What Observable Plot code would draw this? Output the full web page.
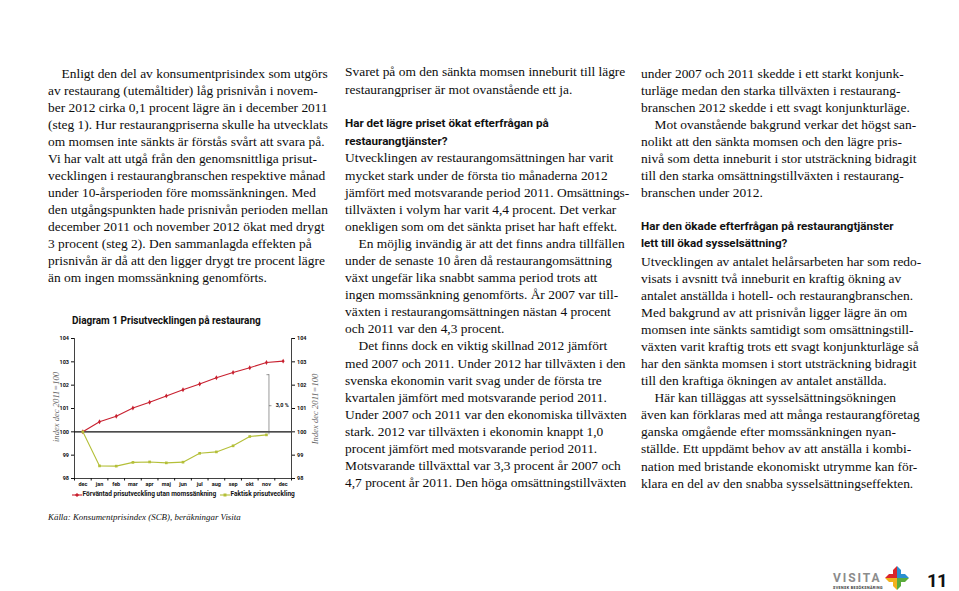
<!DOCTYPE html>
<html><head><meta charset="utf-8">
<script src="https://cdn.jsdelivr.net/npm/d3@7"></script>
<script src="https://cdn.jsdelivr.net/npm/@observablehq/plot@0.6"></script>
<style>
html,body{margin:0;padding:0;background:#fff;}
#page{position:relative;width:959px;height:591px;overflow:hidden;background:#fff;color:#0d0d0d;}
.blk{position:absolute;white-space:nowrap;font-family:"Liberation Serif","Times New Roman",serif;}
.blk div{white-space:nowrap;}
.ind{padding-left:13.5px;}
.hd{font-family:Roboto,"Noto Sans",sans-serif;font-weight:700;color:#111;}
.abs{position:absolute;white-space:nowrap;}
#chart{position:absolute;left:40px;top:325px;}
</style></head>
<body><div id="page"></div>
<script>
// ---- chart data ----
const months = ["dec","jan","feb","mar","apr","maj","jun","jul","aug","sep","okt","nov","dec"];
const expected = [100, 100.43, 100.67, 101.02, 101.27, 101.54, 101.8, 102.05, 102.32, 102.54, 102.75, 102.97, 103.03];
const actual = [100, 98.54, 98.53, 98.69, 98.71, 98.67, 98.70, 99.08, 99.14, 99.40, 99.80, 99.87];
const yTicks = [98, 99, 100, 101, 102, 103, 104];
const seriesNames = ["Förväntad prisutveckling utan momssänkning", "Faktisk prisutveckling"];
const seriesColors = ["#c8202f", "#b4bf38"];
const bracketX = 11.15, bracketTop = 102.45, bracketLabelY = 101.12, bracketLabel = "3,0 %";
const chartTitle = "Diagram 1 Prisutvecklingen på restaurang";
const yLabelLeft = "index dec 2011=100", yLabelRight = "Index dec 2011=100";
const source = "Källa: Konsumentprisindex (SCB), beräkningar Visita";

// ---- page text ----
const col1 = [
 ">Enligt den del av konsumentprisindex som utgörs",
 "av restaurang (utemåltider) låg prisnivån i novem-",
 "ber 2012 cirka 0,1 procent lägre än i december 2011",
 "(steg 1). Hur restaurangpriserna skulle ha utvecklats",
 "om momsen inte sänkts är förstås svårt att svara på.",
 "Vi har valt att utgå från den genomsnittliga prisut-",
 "vecklingen i restaurangbranschen respektive månad",
 "under 10-årsperioden före momssänkningen. Med",
 "den utgångspunkten hade prisnivån perioden mellan",
 "december 2011 och november 2012 ökat med drygt",
 "3 procent (steg 2). Den sammanlagda effekten på",
 "prisnivån är då att den ligger drygt tre procent lägre",
 "än om ingen momssänkning genomförts."];
const col2a = ["Svaret på om den sänkta momsen inneburit till lägre","restaurangpriser är mot ovanstående ett ja."];
const col2h = ["Har det lägre priset ökat efterfrågan på","restaurangtjänster?"];
const col2b = [
 "Utvecklingen av restaurangomsättningen har varit",
 "mycket stark under de första tio månaderna 2012",
 "jämfört med motsvarande period 2011. Omsättnings-",
 "tillväxten i volym har varit 4,4 procent. Det verkar",
 "onekligen som om det sänkta priset har haft effekt.",
 ">En möjlig invändig är att det finns andra tillfällen",
 "under de senaste 10 åren då restaurangomsättning",
 "växt ungefär lika snabbt samma period trots att",
 "ingen momssänkning genomförts. År 2007 var till-",
 "växten i restaurangomsättningen nästan 4 procent",
 "och 2011 var den 4,3 procent.",
 ">Det finns dock en viktig skillnad 2012 jämfört",
 "med 2007 och 2011. Under 2012 har tillväxten i den",
 "svenska ekonomin varit svag under de första tre",
 "kvartalen jämfört med motsvarande period 2011.",
 "Under 2007 och 2011 var den ekonomiska tillväxten",
 "stark. 2012 var tillväxten i ekonomin knappt 1,0",
 "procent jämfört med motsvarande period 2011.",
 "Motsvarande tillväxttal var 3,3 procent år 2007 och",
 "4,7 procent år 2011. Den höga omsättningstillväxten"];
const col3a = [
 "under 2007 och 2011 skedde i ett starkt konjunk-",
 "turläge medan den starka tillväxten i restaurang-",
 "branschen 2012 skedde i ett svagt konjunkturläge.",
 ">Mot ovanstående bakgrund verkar det högst san-",
 "nolikt att den sänkta momsen och den lägre pris-",
 "nivå som detta inneburit i stor utsträckning bidragit",
 "till den starka omsättningstillväxten i restaurang-",
 "branschen under 2012."];
const col3h = ["Har den ökade efterfrågan på restaurangtjänster","lett till ökad sysselsättning?"];
const col3b = [
 "Utvecklingen av antalet helårsarbeten har som redo-",
 "visats i avsnitt två inneburit en kraftig ökning av",
 "antalet anställda i hotell- och restaurangbranschen.",
 "Med bakgrund av att prisnivån ligger lägre än om",
 "momsen inte sänkts samtidigt som omsättningstill-",
 "växten varit kraftig trots ett svagt konjunkturläge så",
 "har den sänkta momsen i stort utsträckning bidragit",
 "till den kraftiga ökningen av antalet anställda.",
 ">Här kan tilläggas att sysselsättningsökningen",
 "även kan förklaras med att många restaurangföretag",
 "ganska omgående efter momssänkningen nyan-",
 "ställde. Ett uppdämt behov av att anställa i kombi-",
 "nation med bristande ekonomiskt utrymme kan för-",
 "klara en del av den snabba sysselsättningseffekten."];

const page = document.getElementById("page");
const cv = document.createElement("canvas").getContext("2d");
function fit(text, font, target){ cv.font = font.replace("SIZE","100px"); return 100*target/cv.measureText(text).width; }

const bodySize = fit(col1[1], 'SIZE "Liberation Serif"', 270);
const hdSize = fit(col2h[0], '700 SIZE Roboto', 204);

function block(left, firstCenter, lh, lines, isHead){
  const d = document.createElement("div");
  d.className = "blk" + (isHead ? " hd" : "");
  d.style.left = left + "px";
  d.style.top = (firstCenter - lh/2) + "px";
  d.style.lineHeight = lh + "px";
  d.style.fontSize = (isHead ? hdSize : bodySize) + "px";
  for (const l of lines){
    const r = document.createElement("div");
    if (l.startsWith(">")){ r.className="ind"; r.textContent = l.slice(1);} else r.textContent = l;
    d.appendChild(r);
  }
  page.appendChild(d);
}
block(48, 73.8, 17.0, col1);
block(345, 72.0, 18.2, col2a);
block(345, 123.3, 18.2, col2h, true);
block(345, 158.0, 17.1, col2b);
block(641, 73.0, 17.0, col3a);
block(641, 226.7, 17.0, col3h, true);
block(641, 261.5, 17.05, col3b);

function absText(text, left, centerY, font, size, extra){
  const d = document.createElement("div");
  d.className = "abs"; d.textContent = text;
  d.style.left = left+"px"; d.style.top = (centerY - size*0.6)+"px";
  d.style.font = font.replace("SIZE", size+"px"); d.style.lineHeight = (size*1.2)+"px";
  if (extra) Object.assign(d.style, extra);
  page.appendChild(d); return d;
}
// ---- chart title ----
absText(chartTitle, 72, 320.7, '700 SIZE Roboto', fit(chartTitle, '700 SIZE Roboto', 189), {color:"#111"});

// ---- chart ----
const expData = expected.map((v,i)=>({i, v}));
const actData = actual.map((v,i)=>({i, v}));
const idx = months.map((_,i)=>i);
const bounds = d3.range(-0.5, months.length, 1);
const chart = Plot.plot({
  width: 290, height: 180,
  marginLeft: 34, marginRight: 39, marginTop: 13, marginBottom: 27,
  x: {type: "linear", domain: [-0.5, months.length - 0.5]},
  y: {domain: [yTicks[0], yTicks[yTicks.length-1]]},
  style: {fontFamily: "Roboto", fontSize: "5.5px", fontWeight: "700", color: "#111", background: "transparent", overflow: "visible"},
  marks: [
    Plot.ruleX([-0.5, months.length - 0.5], {y1: yTicks[0], y2: yTicks[yTicks.length-1], stroke: "#111", strokeWidth: 0.8}),
    Plot.ruleY([yTicks[0]], {stroke: "#111", strokeWidth: 0.8}),
    Plot.axisY({anchor: "left", ticks: yTicks, tickSize: 3, tickPadding: 2.5, label: null, tickFormat: d => String(d)}),
    Plot.axisY({anchor: "right", ticks: yTicks, tickSize: 3, tickPadding: 2.5, label: null, tickFormat: d => String(d)}),
    Plot.axisX({ticks: idx, tickSize: 0, tickPadding: 4, label: null, tickFormat: i => months[i]}),
    Plot.axisX({ticks: bounds, tickSize: 2.5, label: null, tickFormat: () => ""}),
    Plot.ruleY([100], {stroke: "#111", strokeWidth: 1.3}),
    Plot.ruleX([bracketX], {y1: actual[11], y2: bracketTop, stroke: "#555", strokeWidth: 0.6}),
    Plot.link([0], {x1: bracketX - 0.15, x2: bracketX, y1: bracketTop, y2: bracketTop, stroke: "#555", strokeWidth: 0.6}),
    Plot.link([0], {x1: bracketX, x2: bracketX + 0.15, y1: bracketLabelY, y2: bracketLabelY, stroke: "#555", strokeWidth: 0.6}),
    Plot.text([bracketLabel], {x: bracketX + 0.4, y: bracketLabelY, text: d => d, textAnchor: "start", fontSize: 5.5, fontWeight: "700"}),
    Plot.line(expData, {x: "i", y: "v", stroke: seriesColors[0], strokeWidth: 1.1}),
    Plot.dot(expData, {x: "i", y: "v", r: 1.5, symbol: "diamond", fill: seriesColors[0], stroke: "none"}),
    Plot.line(actData, {x: "i", y: "v", stroke: seriesColors[1], strokeWidth: 1.1}),
    Plot.dot(actData, {x: "i", y: "v", r: 1.5, symbol: "square", fill: seriesColors[1], stroke: "none"})
  ]
});
chart.id = "chart";
page.appendChild(chart);

// y axis titles
function rotLabel(text, cx, cy){
  const d = document.createElement("div");
  d.className = "abs"; d.textContent = text;
  d.style.font = 'italic 8.6px "Liberation Serif"'; d.style.color = "#666";
  d.style.left = cx + "px"; d.style.top = cy + "px";
  d.style.transform = "translate(-50%,-50%) rotate(-90deg)";
  page.appendChild(d);
}
rotLabel(yLabelLeft, 55.5, 407);
rotLabel(yLabelRight, 314.5, 409);

// legend
const legSize = fit(seriesNames[0], '700 SIZE Roboto', 134);
const legX = [72, 220];
seriesNames.forEach((name, k) => {
  const sw = document.createElementNS("http://www.w3.org/2000/svg","svg");
  sw.setAttribute("width", 10); sw.setAttribute("height", 6);
  sw.style.position = "absolute"; sw.style.left = legX[k]+"px"; sw.style.top = "492px";
  const ln = document.createElementNS(sw.namespaceURI, "line");
  ln.setAttribute("x1",0); ln.setAttribute("x2",10); ln.setAttribute("y1",3); ln.setAttribute("y2",3);
  ln.setAttribute("stroke", seriesColors[k]); ln.setAttribute("stroke-width", 1.1);
  sw.appendChild(ln);
  const m = document.createElementNS(sw.namespaceURI, "rect");
  m.setAttribute("x",3.5); m.setAttribute("y",1.5); m.setAttribute("width",3); m.setAttribute("height",3);
  m.setAttribute("fill", seriesColors[k]);
  if (k===0) m.setAttribute("transform","rotate(45 5 3)");
  sw.appendChild(m);
  page.appendChild(sw);
  absText(name, legX[k] + 10.5, 495.2, '700 SIZE Roboto', legSize, {color:"#111"});
});

// source
absText(source, 48, 517, 'italic SIZE "Liberation Serif"', fit(source, 'italic SIZE "Liberation Serif"', 193), {color:"#111"});

// logo and page number
absText("VISITA", 833, 578.5, '700 SIZE Roboto', 12, {color:"#8c8c8c", letterSpacing:"1.9px"});
absText("SVENSK BESÖKSNÄRING", 833, 588, '700 SIZE Roboto', 3.7, {color:"#333", letterSpacing:"0.4px"});
(function(){
  const ns = "http://www.w3.org/2000/svg";
  const s = document.createElementNS(ns,"svg");
  s.setAttribute("width",28); s.setAttribute("height",28);
  s.style.position="absolute"; s.style.left="883px"; s.style.top="564px";
  const c=14, a=12, w=4;
  const quads = [["#d9262c",-1,-1],["#2a8fd0",1,-1],["#5aac3c",1,1],["#f2b11a",-1,1]];
  quads.forEach(([col,sx,sy])=>{
    const pts = [[0,0],[0,a*sy],[w*sx,(a-w)*sy],[w*sx,w*sy],[(a-w)*sx,w*sy],[a*sx,0]];
    const p = document.createElementNS(ns,"polygon");
    p.setAttribute("points", pts.map(([x,y])=>(c+x)+","+(c+y)).join(" "));
    p.setAttribute("fill", col);
    s.appendChild(p);
  });
  page.appendChild(s);
})();
absText("11", 927, 581.5, '700 SIZE Roboto', 18.5, {color:"#111", letterSpacing:"-0.5px"});
</script></body></html>
